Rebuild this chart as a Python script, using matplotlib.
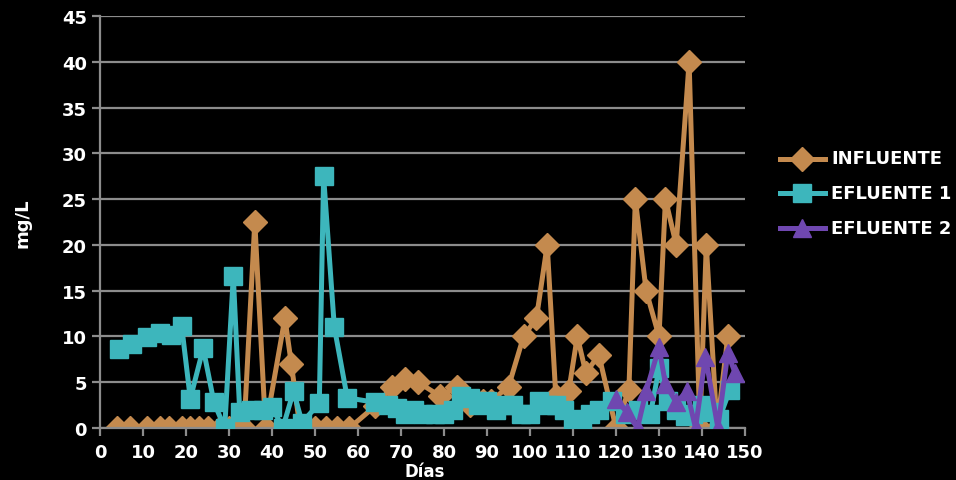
import matplotlib.pyplot as plt

# Datos: días de muestreo y concentraciones (mg/L)
dias_inf = [4, 7, 11, 14, 16, 19, 21, 23, 25, 28, 30, 32, 33.5, 36, 38.5, 43, 44.5, 46.5,
            50, 52.5, 55, 58, 64, 68, 71, 74, 79, 83, 86, 89, 91, 95, 98.5, 101.5, 104,
            106, 109, 111, 113, 116, 120, 123, 124.5, 127, 130, 131.5, 134, 137, 139.5,
            141, 143.5, 146]
influente = [0, 0, 0, 0, 0, 0, 0, 0, 0, 0, 0, 0, 0, 22.5, 0, 12, 7, 0,
             0, 0, 0, 0, 2.4, 4.5, 5.3, 5, 3.5, 4.5, 2.5, 3, 3, 4.5, 10, 12, 20,
             3.5, 4, 10, 6, 8, 0, 4.2, 25, 15, 10, 25, 20, 40, 0,
             20, 0, 10]

dias_ef1 = [4.5, 7.5, 11, 14, 16.5, 19, 21, 24, 26.5, 29, 31, 32.5, 35, 38, 40, 42.5,
            45, 47, 51, 52, 54.5, 57.5, 64, 67, 69, 71, 73, 75, 78, 80, 82, 84, 86, 88,
            90, 92, 94, 96, 98, 100, 102, 104, 106, 108, 110, 112, 114, 116, 119, 122,
            125, 128, 130, 132, 134, 136, 138, 140, 142, 144, 146.5]
efluente1 = [8.6, 9.2, 9.9, 10.4, 10.2, 11.1, 3.2, 8.7, 2.8, 0, 16.6, 1.7, 2, 2, 2.3, 0,
             4, 0.6, 2.7, 27.5, 11, 3.3, 2.8, 2.5, 2.2, 1.5, 2, 1.5, 1.5, 1.5, 2, 3.5,
             3.3, 2.5, 3, 2, 2.5, 2.5, 1.5, 1.5, 3, 2.5, 2.5, 2, 1, 0.8, 1.5, 2, 3, 1.5,
             2, 1.5, 6.5, 3, 2, 1.3, 1.5, 2.5, 1.7, 1, 4.2]

dias_ef2 = [120, 122.5, 125, 127, 130, 131.5, 134, 136.5, 138.5, 140.8, 143.7, 146, 147.7]
efluente2 = [3.2, 1.7, 0, 4, 8.8, 4.8, 2.8, 4, 0, 7.8, 0, 8.2, 6]

c_inf = '#C48A4E'
c_ef1 = '#3DB6BC'
c_ef2 = '#6F47B0'
gris = '#8C8C8C'

fig = plt.figure(figsize=(9.56, 4.81), dpi=100, facecolor='black')
ax = fig.add_axes([100/956, 52/481, 645/956, 412/481], facecolor='black')

# cada serie se dibuja encima de la anterior
ax.plot(dias_inf, influente, color=c_inf, lw=3.6, marker='D', ms=12,
        label='INFLUENTE', zorder=2)
ax.plot(dias_ef1, efluente1, color=c_ef1, lw=3.6, marker='s', ms=13,
        label='EFLUENTE 1', zorder=3)
ax.plot(dias_ef2, efluente2, color=c_ef2, lw=3.6, marker='^', ms=13,
        label='EFLUENTE 2', zorder=4)

ax.set_xlim(0, 150)
ax.set_ylim(0, 45)
ax.set_xticks(range(0, 151, 10))
ax.set_yticks(range(0, 46, 5))
ax.grid(axis='y', color=gris, lw=1.6)
ax.set_axisbelow(True)

for lado in ['top', 'right']:
    ax.spines[lado].set_visible(False)
for lado in ['left', 'bottom']:
    ax.spines[lado].set_color(gris)
    ax.spines[lado].set_linewidth(1.6)

ax.tick_params(colors=gris, width=1.6, length=6, direction='out')
for lab in ax.get_xticklabels() + ax.get_yticklabels():
    lab.set_color('white')
    lab.set_fontweight('bold')
    lab.set_fontsize(13)
ax.tick_params(axis='x', pad=5)

ax.set_ylabel('mg/L', color='white', fontsize=13, fontweight='bold', labelpad=22)
fig.text(425/956, 0, 'Días', color='white', fontsize=12, fontweight='bold',
         ha='center', va='bottom')

leg = ax.legend(loc='center left', bbox_to_anchor=(1.045, 0.57), frameon=False,
                handlelength=3.3, labelspacing=1.2, borderaxespad=0, handletextpad=0.4)
for t in leg.get_texts():
    t.set_color('white')
    t.set_fontweight('bold')
    t.set_fontsize(13)

fig.savefig('out.png', dpi=100, facecolor='black')
